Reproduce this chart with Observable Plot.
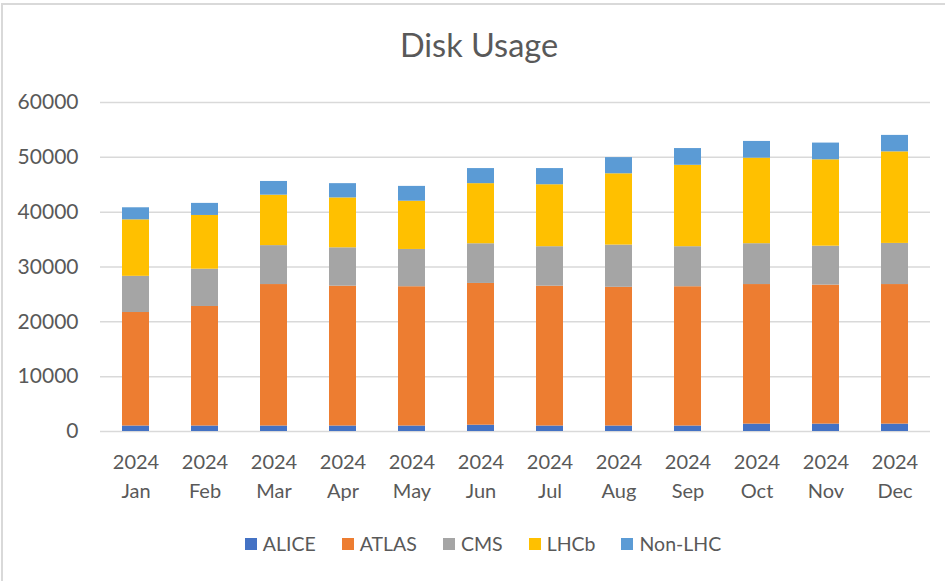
<!DOCTYPE html>
<html>
<head>
<meta charset="utf-8">
<script src="https://cdn.jsdelivr.net/npm/d3@7"></script>
<script src="https://cdn.jsdelivr.net/npm/@observablehq/plot@0.6"></script>
<style>
  body { margin: 0; background: #fff; font-family: Lato, "Open Sans", sans-serif; }
  #wrap { position: relative; width: 945px; height: 581px; overflow: hidden; background: #fff; }
  #frame { position: absolute; left: 1px; top: 3px; width: 960px; height: 600px; border-top: 2px solid #d9d9d9; border-left: 2px solid #d9d9d9; box-sizing: border-box; }
  #title { position: absolute; top: 25px; left: 0; width: 958px; text-align: center; font-size: 32.5px; color: #595959; }
  #chart { position: absolute; top: 80px; left: 0; }
  #legend { position: absolute; top: 532px; left: 0; width: 966px; display: flex; justify-content: center; gap: 26px; font-size: 19.5px; color: #595959; }
  .item { display: flex; align-items: center; gap: 6px; }
  .sw { width: 12px; height: 12px; display: inline-block; }
</style>
</head>
<body>
<div id="wrap">
  <div id="frame"></div>
  <div id="title">Disk Usage</div>
  <div id="chart"></div>
  <div id="legend"></div>
</div>
<script>
const months = ["Jan", "Feb", "Mar", "Apr", "May", "Jun", "Jul", "Aug", "Sep", "Oct", "Nov", "Dec"];
const year = "2024";
const series = ["ALICE", "ATLAS", "CMS", "LHCb", "Non-LHC"];
const colors = ["#4472C4", "#ED7D31", "#A5A5A5", "#FFC000", "#5B9BD5"];
const yTicks = [0, 10000, 20000, 30000, 40000, 50000, 60000];

const alice  = [1000, 1000, 1000, 1000, 1000, 1150, 1000, 1000, 1000, 1350, 1350, 1350];
const atlas  = [20700, 21800, 25800, 25500, 25400, 25850, 25500, 25300, 25400, 25450, 25350, 25450];
const cms    = [6600, 6800, 7100, 7000, 6800, 7240, 7200, 7700, 7300, 7450, 7100, 7500];
const lhcb   = [10300, 9800, 9200, 9100, 8800, 10960, 11300, 13000, 14850, 15600, 15750, 16700];
const nonlhc = [2200, 2200, 2500, 2600, 2700, 2750, 2950, 2950, 3050, 3050, 3050, 3000];

const valuesBySeries = [alice, atlas, cms, lhcb, nonlhc];
const data = months.flatMap((m, i) =>
  series.map((s, j) => ({ month: m, series: s, value: valuesBySeries[j][i] }))
);

const chart = Plot.plot({
  width: 945,
  height: 430,
  marginLeft: 100,
  marginRight: 15,
  marginTop: 22,
  marginBottom: 79,
  style: { fontFamily: "Lato, 'Open Sans', sans-serif", background: "transparent" },
  x: { domain: months, paddingInner: 0.61, paddingOuter: 0.305, label: null },
  y: { domain: [0, 60000], label: null },
  color: { domain: series, range: colors },
  marks: [
    Plot.gridY(yTicks, { stroke: "#d9d9d9", strokeOpacity: 1, strokeWidth: 1.5 }),
    Plot.barY(data, { x: "month", y: "value", fill: "series" }),
    Plot.axisY(yTicks, {
      tickSize: 0, tickPadding: 22, fontSize: 21, fill: "#595959",
      tickFormat: d => String(d), label: null
    }),
    Plot.axisX({
      tickSize: 0, tickPadding: 17, fontSize: 20, fill: "#595959", lineHeight: 1.45,
      tickFormat: m => year + "\n" + m, label: null
    })
  ]
});
document.getElementById("chart").appendChild(chart);

const legend = document.getElementById("legend");
series.forEach((s, i) => {
  const item = document.createElement("div");
  item.className = "item";
  const sw = document.createElement("span");
  sw.className = "sw";
  sw.style.background = colors[i];
  const t = document.createElement("span");
  t.textContent = s;
  item.appendChild(sw);
  item.appendChild(t);
  legend.appendChild(item);
});
</script>
</body>
</html>
